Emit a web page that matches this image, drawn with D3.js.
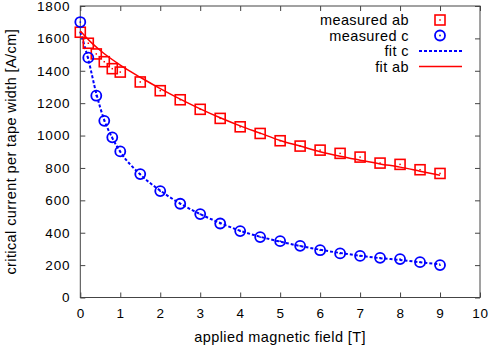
<!DOCTYPE html>
<html>
<head>
    <script src="https://d3js.org/d3.v7.min.js"></script>
    <style>
        body { margin: 0; background: #fff; }
        svg { display: block; }
        text { font-family: "Liberation Sans", Arial, sans-serif; font-size: 14.5px; letter-spacing: 0.4px; fill: #000; }
        .tick text { font-size: 13.5px; letter-spacing: 0.8px; }
    </style>
</head>
<body>
    <div id="chart"></div>
    <script>
        // measured points (field in T, Ic in A/cm)
        const fieldPts = [0, 0.2, 0.4, 0.6, 0.8, 1, 1.5, 2, 2.5, 3, 3.5, 4, 4.5, 5, 5.5, 6, 6.5, 7, 7.5, 8, 8.5, 9];
        const measuredAb = [1638, 1570, 1504, 1456, 1413, 1392, 1331, 1277, 1221, 1162, 1106, 1054, 1013, 968, 935, 910, 890, 867, 830, 822, 789, 766];
        const measuredC = [1701, 1481, 1246, 1091, 989, 902, 762, 657, 579, 515, 457, 410, 373, 348, 319, 292, 272, 257, 245, 237, 218, 200];

        // fit curves
        const fitAbField = [0, 0.25, 0.5, 1, 1.5, 2, 2.5, 3, 3.5, 4, 4.5, 5, 5.5, 6, 6.5, 7, 7.5, 8, 8.5, 9];
        const fitAb = [1645, 1580, 1525, 1435, 1360, 1290, 1225, 1165, 1110, 1060, 1015, 970, 935, 900, 872, 848, 825, 805, 780, 755];
        const fitCField = [0, 0.2, 0.4, 0.6, 0.8, 1, 1.5, 2, 2.5, 3, 3.5, 4, 4.5, 5, 5.5, 6, 6.5, 7, 7.5, 8, 8.5, 9];
        const fitC = [1640, 1470, 1260, 1095, 985, 900, 760, 660, 580, 515, 460, 412, 375, 345, 318, 295, 275, 258, 243, 232, 218, 205];

        const xTicks = [0, 1, 2, 3, 4, 5, 6, 7, 8, 9, 10];
        const yTicks = [0, 200, 400, 600, 800, 1000, 1200, 1400, 1600, 1800];

        const width = 491, height = 346;
        const margin = { top: 6, right: 11, bottom: 48.5, left: 80.3 };

        const svg = d3.select("#chart").append("svg")
            .attr("width", width)
            .attr("height", height);

        const x = d3.scaleLinear().domain([0, 10]).range([margin.left, width - margin.right]);
        const y = d3.scaleLinear().domain([0, 1800]).range([height - margin.bottom, margin.top]);

        const axisColor = "#444";
        const tickLen = 5;

        // ticks on all four sides, pointing inward
        const axes = [
            d3.axisBottom(x).tickValues(xTicks).tickSizeInner(-tickLen).tickSizeOuter(0).tickPadding(11).tickFormat(d3.format("d")),
            d3.axisTop(x).tickValues(xTicks).tickSizeInner(-tickLen).tickSizeOuter(0).tickFormat(""),
            d3.axisLeft(y).tickValues(yTicks).tickSizeInner(-tickLen).tickSizeOuter(0).tickPadding(10).tickFormat(d3.format("d")),
            d3.axisRight(y).tickValues(yTicks).tickSizeInner(-tickLen).tickSizeOuter(0).tickFormat("")
        ];
        const translations = [
            `translate(0,${y(0)})`, `translate(0,${y(1800)})`,
            `translate(${x(0)},0)`, `translate(${x(10)},0)`
        ];
        axes.forEach((ax, i) => {
            const g = svg.append("g").attr("transform", translations[i]).call(ax);
            g.select(".domain").remove();
            g.selectAll("line").attr("stroke", axisColor);
            g.selectAll("text").attr("fill", "#000");
            g.attr("font-size", null).attr("font-family", null);
        });

        // frame
        svg.append("rect")
            .attr("x", x(0)).attr("y", y(1800))
            .attr("width", x(10) - x(0)).attr("height", y(0) - y(1800))
            .attr("fill", "none").attr("stroke", axisColor).attr("stroke-width", 1);

        const line = d3.line().curve(d3.curveMonotoneX);

        // fit curves
        svg.append("path")
            .attr("d", line(fitCField.map((f, i) => [x(f), y(fitC[i])])))
            .attr("fill", "none").attr("stroke", "#0000ff").attr("stroke-width", 2)
            .attr("stroke-dasharray", "3,2");
        svg.append("path")
            .attr("d", line(fitAbField.map((f, i) => [x(f), y(fitAb[i])])))
            .attr("fill", "none").attr("stroke", "#ff0000").attr("stroke-width", 1.5);

        // markers
        function square(g, cx, cy) {
            g.append("rect").attr("x", cx - 5).attr("y", cy - 5).attr("width", 10).attr("height", 10)
                .attr("fill", "none").attr("stroke", "#ff0000").attr("stroke-width", 1.6);
            g.append("rect").attr("x", cx - 0.75).attr("y", cy - 0.75).attr("width", 1.5).attr("height", 1.5)
                .attr("fill", "#ff0000");
        }
        function circle(g, cx, cy) {
            g.append("circle").attr("cx", cx).attr("cy", cy).attr("r", 5)
                .attr("fill", "none").attr("stroke", "#0000ff").attr("stroke-width", 1.8);
            g.append("circle").attr("cx", cx).attr("cy", cy).attr("r", 0.9).attr("fill", "#0000ff");
        }
        const marks = svg.append("g");
        fieldPts.forEach((f, i) => square(marks, x(f), y(measuredAb[i])));
        fieldPts.forEach((f, i) => circle(marks, x(f), y(measuredC[i])));

        // axis labels
        svg.append("text")
            .attr("x", (x(0) + x(10)) / 2).attr("y", 342)
            .attr("text-anchor", "middle")
            .text("applied magnetic field [T]");
        svg.append("text")
            .attr("transform", `translate(16,${(y(0) + y(1800)) / 2}) rotate(-90)`)
            .attr("text-anchor", "middle")
            .text("critical current per tape width [A/cm]");

        // legend
        const legend = [
            { label: "measured ab", kind: "square" },
            { label: "measured c", kind: "circle" },
            { label: "fit c", kind: "dash" },
            { label: "fit ab", kind: "solid" }
        ];
        const lg = svg.append("g");
        legend.forEach((d, i) => {
            const ly = 20 + i * 15.5;
            lg.append("text").attr("x", 409).attr("y", ly + 5).attr("text-anchor", "end").text(d.label);
            if (d.kind === "square") square(lg, 440, ly);
            else if (d.kind === "circle") circle(lg, 440, ly);
            else {
                lg.append("line").attr("x1", 419).attr("x2", 462).attr("y1", ly).attr("y2", ly)
                    .attr("stroke", d.kind === "dash" ? "#0000ff" : "#ff0000")
                    .attr("stroke-width", d.kind === "dash" ? 2 : 1.5)
                    .attr("stroke-dasharray", d.kind === "dash" ? "3,2" : null);
            }
        });
    </script>
</body>
</html>
